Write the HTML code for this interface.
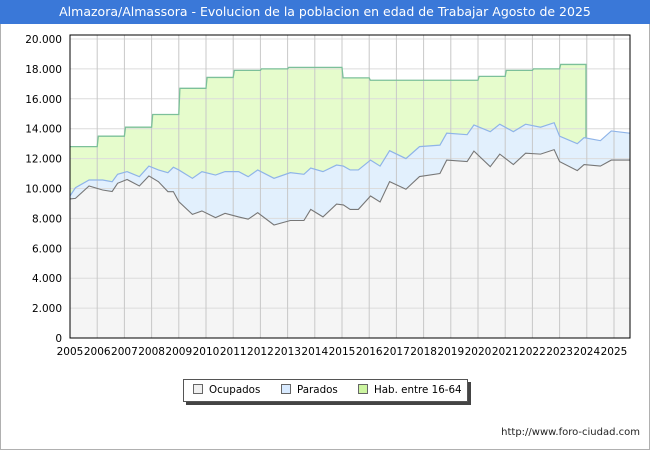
<!DOCTYPE html>
<html><head><meta charset="utf-8"><style>
body{margin:0;width:650px;height:450px;background:#fff;font-family:"DejaVu Sans","Liberation Sans",sans-serif;overflow:hidden}
#frame{position:absolute;left:0;top:0;width:648px;height:448px;border:1px solid #b0b0b0}
#title{position:absolute;left:0;top:0;width:650px;height:24px;background:#3a78d8;color:#fff;font-size:12.5px;line-height:24px;text-align:center;white-space:nowrap}
#legend{position:absolute;left:183px;top:379px;width:283px;height:21px;border:1px solid #555;background:#fff;box-shadow:3px 3px 0 #444;font-size:10.3px;line-height:21px;white-space:nowrap}
.li{position:absolute;top:0;white-space:nowrap}
.sw{display:inline-block;width:8px;height:8px;border:1px solid #666;margin-right:6px;vertical-align:-1px}
#url{position:absolute;right:10px;top:427px;font-size:10px;color:#222}
</style></head><body>
<div id="frame"></div>
<div id="title">Almazora/Almassora - Evolucion de la poblacion en edad de Trabajar Agosto de 2025</div>
<svg id="chart" width="650" height="450" style="position:absolute;left:0;top:0"></svg>
<div id="legend">
<span class="li" style="left:9px"><span class="sw" style="background:#f0f0f0"></span>Ocupados</span>
<span class="li" style="left:97px"><span class="sw" style="background:#d8eaff"></span>Parados</span>
<span class="li" style="left:174px"><span class="sw" style="background:#ccf5a0"></span>Hab. entre 16-64</span>
</div>
<div id="url">http://www.foro-ciudad.com</div>
<script>
const times=[2005.0,2005.2,2005.7,2006.2,2006.55,2006.75,2007.1,2007.55,2007.9,2008.25,2008.6,2008.8,2009.0,2009.5,2009.85,2010.35,2010.7,2011.2,2011.55,2011.9,2012.5,2013.1,2013.6,2013.85,2014.3,2014.8,2015.05,2015.3,2015.6,2016.05,2016.4,2016.75,2017.35,2017.85,2018.6,2018.85,2019.6,2019.85,2020.45,2020.8,2021.3,2021.75,2022.3,2022.8,2023.0,2023.65,2023.9,2024.5,2024.9,2025.58];
const totals=[9500,10050,10570,10570,10450,10950,11130,10790,11500,11240,11060,11420,11240,10680,11130,10900,11130,11130,10790,11240,10680,11060,10950,11370,11130,11570,11500,11240,11240,11900,11500,12530,12000,12800,12900,13700,13600,14250,13800,14300,13800,14300,14100,14400,13500,13000,13400,13200,13850,13700];
const ocupados=[9300,9340,10170,9900,9800,10350,10600,10170,10840,10460,9790,9790,9120,8270,8500,8050,8340,8100,7950,8380,7560,7860,7860,8600,8100,8960,8900,8600,8600,9500,9100,10460,9950,10800,11000,11900,11800,12500,11460,12300,11600,12360,12300,12600,11800,11200,11600,11500,11900,11900];
const habYears=[2005,2006,2007,2008,2009,2010,2011,2012,2013,2014,2015,2016,2017,2018,2019,2020,2021,2022,2023];
const habVals=[12800,13500,14100,14950,16700,17430,17900,18000,18100,18100,17400,17240,17240,17240,17240,17500,17900,18000,18300];
const yTicks=[0,2000,4000,6000,8000,10000,12000,14000,16000,18000,20000];
const yTickLabels=["0","2.000","4.000","6.000","8.000","10.000","12.000","14.000","16.000","18.000","20.000"];
const xYears=[2005,2006,2007,2008,2009,2010,2011,2012,2013,2014,2015,2016,2017,2018,2019,2020,2021,2022,2023,2024,2025];
const habEnd=2023.97, tEnd=2025.58;
const L=70,R=630,T=35,B=338;
const X=t=>L+(t-2005)*27.2;
const Y=v=>B-v*0.01495;
const svg=document.getElementById('chart');const NS='http://www.w3.org/2000/svg';
function mk(tag,attrs,name){const e=document.createElementNS(NS,tag);for(const k in attrs)e.setAttribute(k,attrs[k]);


svg.appendChild(e);return e;}
mk('rect',{x:L,y:T,width:R-L,height:B-T,fill:'#fff'},'plot-background');
let hp=[];habYears.forEach((yr,i)=>{hp.push([X(yr+(i?0.04:0)),Y(habVals[i])]);hp.push([X(i<habYears.length-1?yr+1:habEnd),Y(habVals[i])]);});
function interp(t,arr){for(let i=0;i<times.length-1;i++){if(t>=times[i]&&t<=times[i+1]){const f=(t-times[i])/(times[i+1]-times[i]);return arr[i]+f*(arr[i+1]-arr[i]);}}return arr[arr.length-1];}
const totEndPt=[X(habEnd),Y(interp(habEnd,totals))];
let totPts=times.map((t,i)=>[X(t),Y(totals[i])]);
let habArea=hp.concat([totEndPt]);
let backTot=totPts.filter(p=>p[0]<=totEndPt[0]).reverse();
habArea=habArea.concat(backTot);
mk('polygon',{points:habArea.map(p=>p.join(',')).join(' '),fill:'#e6fccc'},'hab-area');
mk('polygon',{points:totPts.map(p=>p.join(',')).join(' ')+` ${X(tEnd)},${Y(0)} ${X(2005)},${Y(0)}`,fill:'#e2f0fd'},'parados-area');
let ocPts=times.map((t,i)=>[X(t),Y(ocupados[i])]);
mk('polygon',{points:ocPts.map(p=>p.join(',')).join(' ')+` ${X(tEnd)},${Y(0)} ${X(2005)},${Y(0)}`,fill:'#f5f5f5'},'ocupados-area');
yTicks.forEach((v,i)=>{mk('line',{x1:L,x2:R,y1:Y(v),y2:Y(v),stroke:'#dcdcdc','stroke-width':1},'y-gridline');
const t=mk('text',{x:62,y:Y(v)+4,'text-anchor':'end','font-size':10.5,fill:'#000'},'y-tick-label');t.textContent=yTickLabels[i];});
xYears.forEach(yr=>{if(yr>2005)mk('line',{x1:X(yr),x2:X(yr),y1:T,y2:B,stroke:'#c8c8c8','stroke-width':1},'x-gridline');
const t=mk('text',{x:X(yr),y:355,'text-anchor':'middle','font-size':10.5,fill:'#000'},'x-tick-label');t.textContent=yr;});
mk('polyline',{points:hp.map(p=>p.join(',')).join(' ')+` ${totEndPt.join(',')}`,fill:'none',stroke:'#7cc09a','stroke-width':1.3},'hab-line');
mk('polyline',{points:totPts.map(p=>p.join(',')).join(' '),fill:'none',stroke:'#8fb4e8','stroke-width':1.2},'parados-line');
mk('polyline',{points:ocPts.map(p=>p.join(',')).join(' '),fill:'none',stroke:'#777','stroke-width':1.1},'ocupados-line');
mk('rect',{x:L,y:T,width:R-L,height:B-T,fill:'none',stroke:'#000','stroke-width':1},'plot-border');
</script>
</body></html>
